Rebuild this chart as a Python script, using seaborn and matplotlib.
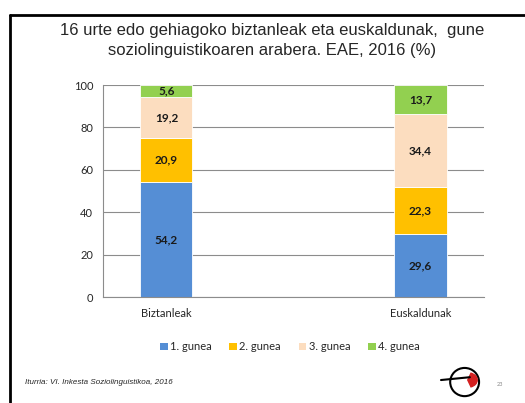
import pandas as pd
import numpy as np
import seaborn as sns
import matplotlib.pyplot as plt
from matplotlib.lines import Line2D
from matplotlib.patches import Patch, Ellipse, Wedge

# Data
categories = ["Biztanleak", "Euskaldunak"]
series = ["1. gunea", "2. gunea", "3. gunea", "4. gunea"]
gunea1 = [54.2, 29.6]
gunea2 = [20.9, 22.3]
gunea3 = [19.2, 34.4]
gunea4 = [5.6, 13.7]
colors = ["#558ED5", "#FFC000", "#FCDDBF", "#92D050"]

df = pd.DataFrame({"cat": categories, "1. gunea": gunea1, "2. gunea": gunea2,
                   "3. gunea": gunea3, "4. gunea": gunea4})
order = ["Biztanleak", "", "Euskaldunak"]

sns.set_style("white")
plt.rcParams['font.family'] = ['Lato', 'DejaVu Sans']

fig = plt.figure(figsize=(5.25, 4.03), dpi=100)
ax = fig.add_axes([0.196, 0.263, 0.726, 0.526])

bottom = np.zeros(len(categories))
for s, c in zip(series, colors):
    sns.barplot(data=df, x="cat", y=s, order=order, color=c, width=0.41,
                bottom=bottom, ax=ax, edgecolor="white", linewidth=0.6,
                saturation=1)
    for xi, (v, b) in enumerate(zip(df[s], bottom)):
        xpos = order.index(categories[xi])
        ax.text(xpos, b + v / 2, f"{v:.1f}".replace(".", ","), ha="center",
                va="center", fontsize=8.5, fontweight="bold", color="#1a1a1a")
    bottom = bottom + df[s].values

ax.set_ylim(0, 100)
ax.set_xlim(-0.5, 2.5)
ax.set_yticks([0, 20, 40, 60, 80, 100])
ax.set_xticks([0, 2])
ax.set_xticklabels(categories)
ax.set_xticks([-0.5, 0.5, 1.5, 2.5], minor=True)
ax.set_xlabel("")
ax.set_ylabel("")
ax.yaxis.grid(True, color="#8c8c8c", linewidth=0.8)
ax.set_axisbelow(True)
for sp in ["top", "right"]:
    ax.spines[sp].set_visible(False)
for sp in ["left", "bottom"]:
    ax.spines[sp].set_color("#8c8c8c")
    ax.spines[sp].set_linewidth(0.8)
ax.tick_params(axis="y", length=4, color="#8c8c8c", labelsize=8, pad=3)
ax.tick_params(axis="x", which="major", length=0, labelsize=8, pad=8)
ax.tick_params(axis="x", which="minor", length=4, color="#8c8c8c")

handles = [Patch(facecolor=c, edgecolor="none") for c in colors]
fig.legend(handles, series, loc="center", bbox_to_anchor=(0.552, 0.139), ncol=4,
           frameon=False, fontsize=8, handlelength=0.7, handleheight=0.7,
           handletextpad=0.2, columnspacing=1.6)

fig.suptitle("16 urte edo gehiagoko biztanleak eta euskaldunak,  gune\n"
             "soziolinguistikoaren arabera. EAE, 2016 (%)",
             x=0.518, y=0.942, fontsize=12, family="Liberation Sans",
             linespacing=1.4)

fig.text(0.048, 0.05, "Iturria: VI. Inkesta Soziolinguistikoa, 2016",
         fontsize=5.8, style="italic", family="Liberation Sans", va="center")
fig.text(0.947, 0.045, "23", fontsize=4, color="#888888", va="center")

# frame lines
fig.add_artist(Line2D([0.019, 0.019], [0, 0.963], color="black", lw=2))
fig.add_artist(Line2D([0.019, 1.0], [0.963, 0.963], color="black", lw=2))

# simple logo
lx, ly = 0.885, 0.052
fig.add_artist(Ellipse((lx, ly), 0.055, 0.07, fill=False, lw=1.5, color="black"))
fig.add_artist(Wedge((lx + 0.006, ly + 0.005), 0.018, -70, 70, color="#d42020"))
fig.add_artist(Line2D([lx - 0.045, lx + 0.01], [ly + 0.005, ly + 0.012], color="black", lw=1.5))

fig.savefig("out.png", dpi=100)
